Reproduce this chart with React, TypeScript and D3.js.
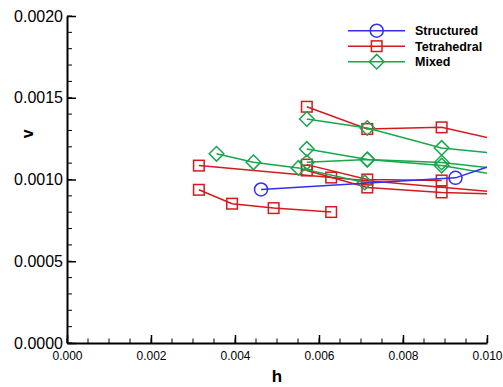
import { useRef, useEffect } from 'react';
import * as d3 from 'd3';

// Structured mesh run
const structuredH = [0.00462, 0.00925, 0.0185];
const structuredV = [0.000939, 0.00101, 0.00182];

// Tetrahedral mesh runs
const tetraH1 = [0.00571, 0.00715, 0.00892, 0.01116];
const tetraV1 = [0.001445, 0.001309, 0.001319, 0.00119];
const tetraH2 = [0.00314, 0.00629, 0.01257];
const tetraV2 = [0.001085, 0.001012, 0.00087];
const tetraH3 = [0.00314, 0.00393, 0.00492, 0.00629];
const tetraV3 = [0.000937, 0.000852, 0.000825, 0.000801];
const tetraH4 = [0.00571, 0.00715, 0.00892, 0.01116];
const tetraV4 = [0.001055, 0.000951, 0.000921, 0.000904];
const tetraH5 = [0.00571, 0.00715, 0.00892];
const tetraV5 = [0.001091, 0.001, 0.000994];

// Mixed mesh runs
const mixedH1 = [0.00571, 0.00715, 0.00892, 0.01116];
const mixedV1 = [0.00137, 0.001315, 0.001193, 0.001134];
const mixedH2 = [0.00356, 0.00444, 0.00551, 0.00709];
const mixedV2 = [0.001157, 0.001105, 0.001071, 0.000982];
const mixedH3 = [0.00571, 0.00715, 0.00892, 0.01116];
const mixedV3 = [0.001187, 0.001122, 0.001104, 0.00104];
const mixedH4 = [0.00571, 0.00715, 0.00892, 0.01116];
const mixedV4 = [0.001105, 0.001122, 0.001085, 0.000988];

const legendNames = ["Structured", "Tetrahedral", "Mixed"];

const xTicks = [0, 0.002, 0.004, 0.006, 0.008, 0.01];
const yTicks = [0, 0.0005, 0.001, 0.0015, 0.002];

const BLUE = "#3030f8";
const RED = "#d7191c";
const GREEN = "#17a74c";
const FONT = "'Liberation Sans', Arial, Helvetica, sans-serif";

const zip = (h: number[], v: number[]) => h.map((d, i) => [d, v[i]] as [number, number]);

function App() {
  const svgRef = useRef<SVGSVGElement>(null);

  useEffect(() => {
    const svg = d3.select(svgRef.current);
    svg.selectAll("*").remove();

    const width = 503, height = 387;
    const margin = { top: 16, right: 16, bottom: 44, left: 67 };

    const x = d3.scaleLinear().domain([0, 0.01]).range([margin.left, width - margin.right]);
    const y = d3.scaleLinear().domain([0, 0.002]).range([height - margin.bottom, margin.top]);

    svg.append("defs").append("clipPath").attr("id", "plot-clip")
      .append("rect")
      .attr("x", margin.left).attr("y", margin.top)
      .attr("width", x(0.01) - x(0)).attr("height", y(0) - y(0.002));

    const series = [
      { color: BLUE, shape: "circle", runs: [zip(structuredH, structuredV)] },
      { color: RED, shape: "square", runs: [
        zip(tetraH1, tetraV1), zip(tetraH2, tetraV2), zip(tetraH3, tetraV3),
        zip(tetraH4, tetraV4), zip(tetraH5, tetraV5)] },
      { color: GREEN, shape: "diamond", runs: [
        zip(mixedH1, mixedV1), zip(mixedH2, mixedV2), zip(mixedH3, mixedV3), zip(mixedH4, mixedV4)] },
    ];

    const line = d3.line<[number, number]>().x(d => x(d[0])).y(d => y(d[1]));

    const drawMarker = (g: any, shape: string, color: string, cx: number, cy: number) => {
      if (shape === "circle") {
        g.append("circle").attr("cx", cx).attr("cy", cy).attr("r", 6.5)
          .attr("fill", "none").attr("stroke", color).attr("stroke-width", 1.5);
      } else if (shape === "square") {
        g.append("rect").attr("x", cx - 5.3).attr("y", cy - 5.3).attr("width", 10.6).attr("height", 10.6)
          .attr("fill", "none").attr("stroke", color).attr("stroke-width", 1.5);
      } else {
        const r = 7.3;
        g.append("path").attr("d", `M${cx},${cy - r}L${cx + r},${cy}L${cx},${cy + r}L${cx - r},${cy}Z`)
          .attr("fill", "none").attr("stroke", color).attr("stroke-width", 1.5);
      }
    };

    const plot = svg.append("g").attr("clip-path", "url(#plot-clip)");

    // Order drawn: tetrahedral, mixed, structured
    [series[1], series[2], series[0]].forEach(s => {
      s.runs.forEach(run => {
        plot.append("path").datum(run).attr("d", line)
          .attr("fill", "none").attr("stroke", s.color).attr("stroke-width", 1.5);
        run.forEach(d => drawMarker(plot, s.shape, s.color, x(d[0]), y(d[1])));
      });
    });

    // Axes
    const axisColor = "#000";
    const yMinor = d3.range(0, 0.00201, 0.0001);
    const xMinor = d3.range(0, 0.01001, 0.0005);

    svg.append("g").selectAll("line").data(yMinor).enter().append("line")
      .attr("x1", margin.left).attr("x2", margin.left + 5)
      .attr("y1", d => y(d)).attr("y2", d => y(d))
      .attr("stroke", axisColor).attr("stroke-width", 1);
    svg.append("g").selectAll("line").data(xMinor).enter().append("line")
      .attr("x1", d => x(d)).attr("x2", d => x(d))
      .attr("y1", y(0)).attr("y2", y(0) - 4.5)
      .attr("stroke", axisColor).attr("stroke-width", 1);

    const yAxis = svg.append("g").attr("transform", `translate(${margin.left},0)`)
      .call(d3.axisLeft(y).tickValues(yTicks).tickFormat(d3.format(".4f") as any)
        .tickSizeInner(-9).tickSizeOuter(0).tickPadding(4));
    yAxis.select(".domain").attr("stroke-width", 2);
    yAxis.selectAll(".tick line").attr("stroke-width", 1.5);
    yAxis.selectAll("text").style("font-size", "16px").style("font-family", FONT).attr("fill", "#000");

    const xAxis = svg.append("g").attr("transform", `translate(0,${y(0)})`)
      .call(d3.axisBottom(x).tickValues(xTicks).tickFormat(d3.format(".3f") as any)
        .tickSizeInner(-8).tickSizeOuter(0).tickPadding(8));
    xAxis.select(".domain").attr("stroke-width", 2);
    xAxis.selectAll(".tick line").attr("stroke-width", 1.5);
    xAxis.selectAll("text").style("font-size", "12px").style("font-family", FONT).attr("fill", "#000");

    svg.append("text")
      .attr("x", (x(0) + x(0.01)) / 2).attr("y", 382)
      .attr("text-anchor", "middle")
      .style("font-family", FONT).style("font-weight", "bold").style("font-size", "17px")
      .text("h");

    svg.append("text")
      .attr("transform", `translate(33,${y(0.00128)}) rotate(-90)`)
      .attr("text-anchor", "middle")
      .style("font-family", FONT).style("font-weight", "bold").style("font-size", "16px")
      .text("v");

    // Legend
    const legend = svg.append("g");
    series.forEach((s, i) => {
      const ly = 30.7 + i * 15.5;
      legend.append("line").attr("x1", 348).attr("x2", 405).attr("y1", ly).attr("y2", ly)
        .attr("stroke", s.color).attr("stroke-width", 1.5);
      drawMarker(legend, s.shape, s.color, 376.7, ly);
      legend.append("text").attr("x", 415).attr("y", ly + 4.5)
        .style("font-family", FONT).style("font-weight", "bold").style("font-size", "12.5px")
        .text(legendNames[i]);
    });
  }, []);

  return (
    <svg ref={svgRef} width={503} height={387}
      style={{ position: "absolute", left: 0, top: 0, background: "#fff" }} />
  );
}

export default App;
